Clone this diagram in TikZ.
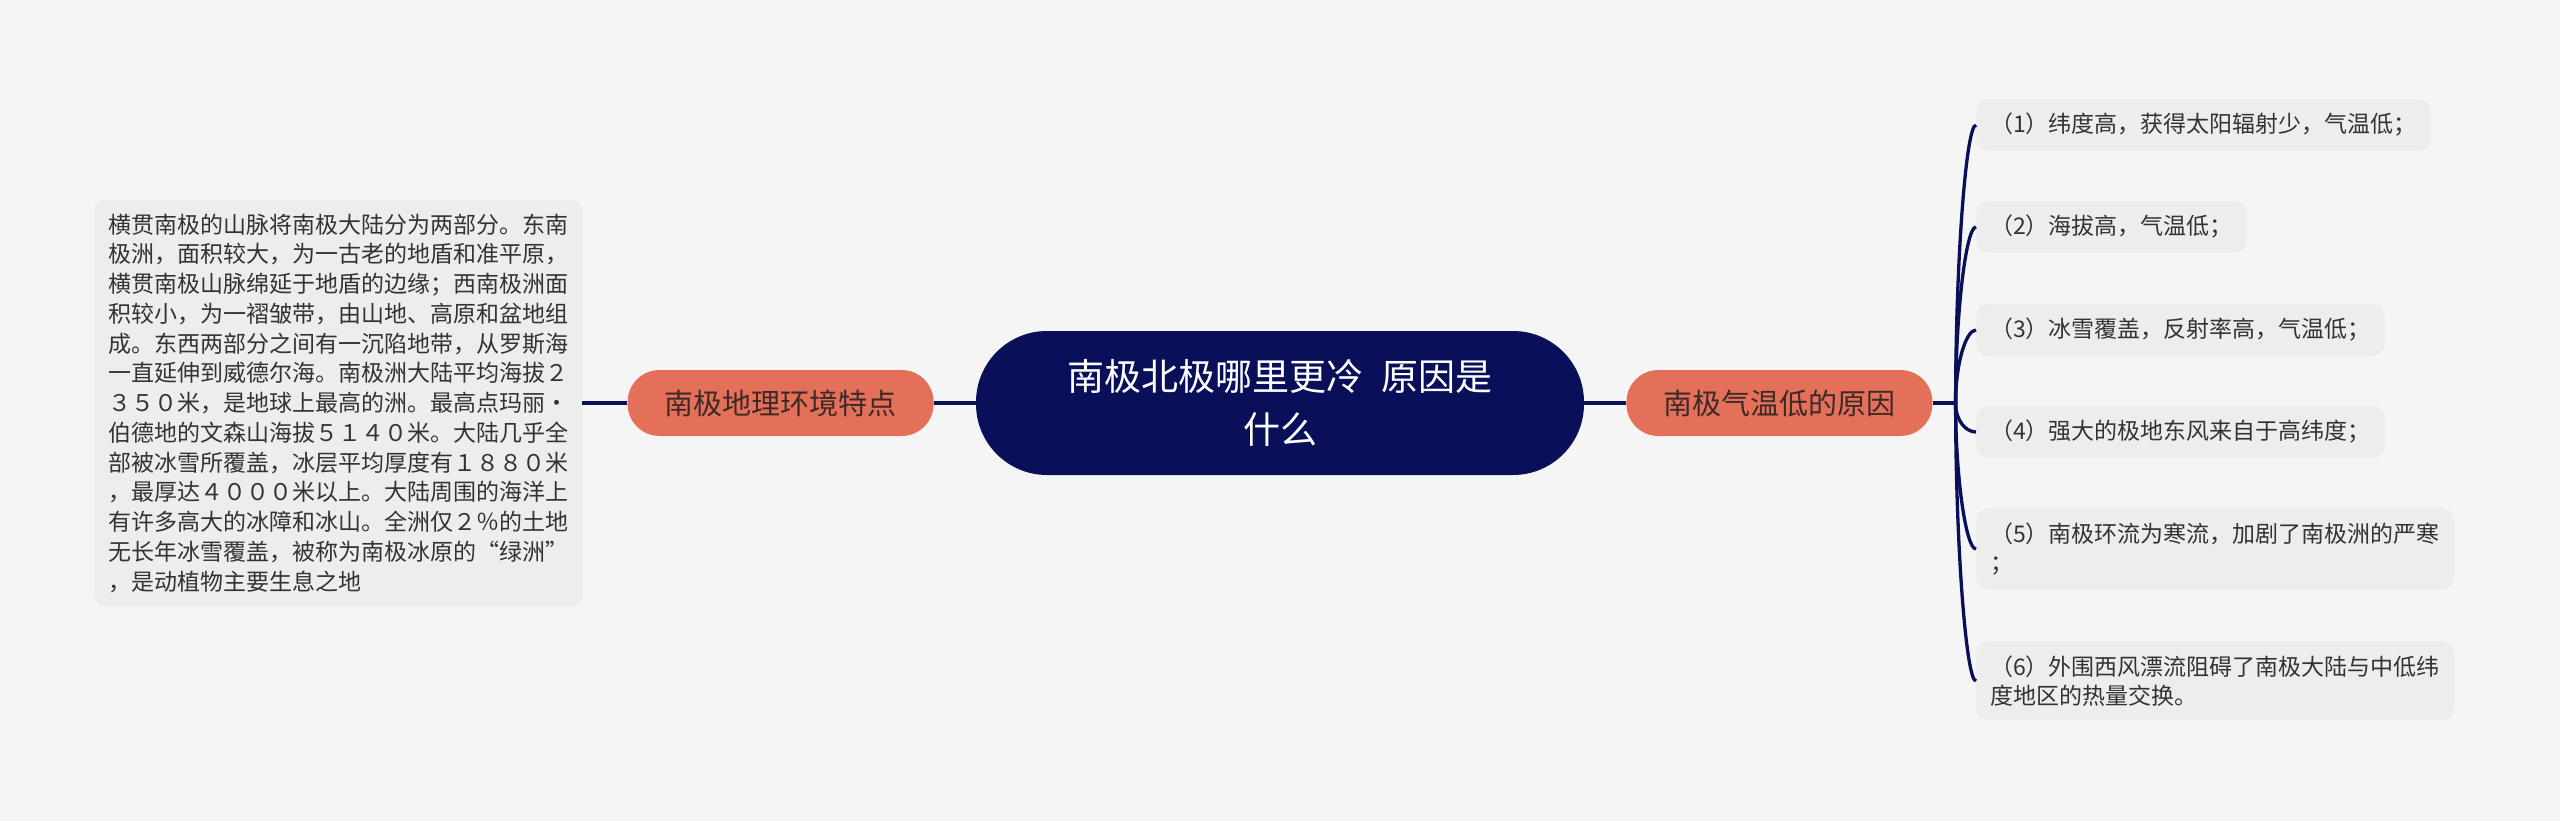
\documentclass[tikz,border=0pt]{standalone}
\usepackage{fontspec}
\setmainfont{Noto Sans CJK SC}
\usepackage{tikz}
\usetikzlibrary{positioning}
\definecolor{navy}{HTML}{0A0F5A}
\definecolor{salmon}{HTML}{E5705A}
\definecolor{paper}{HTML}{F5F5F5}
\definecolor{notebg}{HTML}{EDEDED}
\definecolor{ink}{HTML}{333333}
\definecolor{topicink}{HTML}{3D2A26}

\begin{document}
\begin{tikzpicture}[
    x=1pt, y=-1pt,
    hub/.style={fill=navy, text=white, rounded corners=71pt, minimum width=608pt, minimum height=144pt, align=center, font=\fontsize{37}{53}\selectfont},
    topic/.style={fill=salmon, text=topicink, rounded corners=32pt, minimum width=306pt, minimum height=66pt, font=\fontsize{29}{35}\selectfont},
    note/.style={fill=notebg, text=ink, rounded corners=12pt, inner xsep=14pt, inner ysep=14pt, align=left, font=\fontsize{23}{29.75}\selectfont},
    link/.style={draw=navy, line width=3.3pt},
    node distance=42pt
]

\fill[paper] (0,0) rectangle (2560,821);
\useasboundingbox (0,0) rectangle (2560,821);

\node[hub] (cn) at (1280,403) {南极北极哪里更冷\hspace{0.5em}原因是\\什么};

\node[topic, left=of cn] (lm) {南极地理环境特点};
\node[topic, right=of cn] (rm) {南极气温低的原因};

\node[note, left=45pt of lm] (lt) {横贯南极的山脉将南极大陆分为两部分。东南\\
极洲，面积较大，为一古老的地盾和准平原，\\
横贯南极山脉绵延于地盾的边缘；西南极洲面\\
积较小，为一褶皱带，由山地、高原和盆地组\\
成。东西两部分之间有一沉陷地带，从罗斯海\\
一直延伸到威德尔海。南极洲大陆平均海拔２\\
３５０米，是地球上最高的洲。最高点玛丽·\\
伯德地的文森山海拔５１４０米。大陆几乎全\\
部被冰雪所覆盖，冰层平均厚度有１８８０米\\
，最厚达４０００米以上。大陆周围的海洋上\\
有许多高大的冰障和冰山。全洲仅２％的土地\\
无长年冰雪覆盖，被称为南极冰原的“绿洲”\\
，是动植物主要生息之地};

% causes
\coordinate[right=23pt of rm] (jr);
\node[note, anchor=west] (c1) at (1976,125) {（1）纬度高，获得太阳辐射少，气温低；};
\node[note, anchor=west] (c2) at (1976,227) {（2）海拔高，气温低；};
\node[note, anchor=west] (c3) at (1976,330) {（3）冰雪覆盖，反射率高，气温低；};
\node[note, anchor=west] (c4) at (1976,432) {（4）强大的极地东风来自于高纬度；};
\node[note, anchor=west] (c5) at (1976,549) {（5）南极环流为寒流，加剧了南极洲的严寒\\；};
\node[note, anchor=west] (c6) at (1976,681) {（6）外围西风漂流阻碍了南极大陆与中低纬\\度地区的热量交换。};

\draw[link] (cn) -- (lm);
\draw[link] (lm) -- (lt);
\draw[link] (cn) -- (rm);
\draw[link] (rm.east) -- (jr);
\foreach \c/\o/\d in {c1/90/140, c2/90/90, c3/90/40, c4/-90/18, c5/-90/75, c6/-90/140}
    \draw[link] (jr) to[out=\o, in=180, out distance=\d pt, in distance=10pt] (\c.west);

\end{tikzpicture}
\end{document}
